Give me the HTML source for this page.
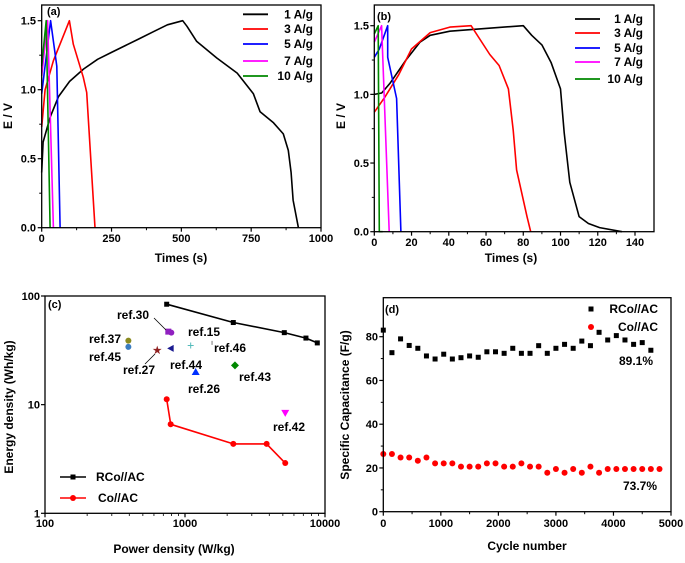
<!DOCTYPE html>
<html><head><meta charset="utf-8"><style>
html,body{margin:0;padding:0;background:#fff;}
svg{display:block;font-family:"Liberation Sans",Arial,sans-serif;font-weight:bold;}
</style></head><body>
<svg id="fig" width="685" height="563" viewBox="0 0 685 563" xmlns="http://www.w3.org/2000/svg"></svg>
<script>
// Panel (a) data
const aSeriesNames=["1 A/g","3 A/g","5 A/g","7 A/g","10 A/g"];
const aColors=["#000","#f00","#00f","#f0f","#080"];
const aT1=[0,5,30,60,100,150,200,250,300,350,400,450,505,520,555,627,700,758,782,830,865,883,893,900,919];
const aV1=[0.4,0.62,0.8,0.95,1.06,1.15,1.22,1.27,1.32,1.37,1.42,1.47,1.5,1.46,1.35,1.23,1.12,0.97,0.84,0.76,0.68,0.56,0.4,0.2,0];
const aT3=[0,12,42,99,113,149,161,191];
const aV3=[0.73,1.0,1.21,1.5,1.33,1.09,0.98,0];
const aT5=[0,32,54,66];const aV5=[0.97,1.5,1.17,0];
const aT7=[0,21,42];const aV7=[1.1,1.5,0];
const aT10=[0,16,30];const aV10=[1.17,1.5,0];
const aXTicks=[0,250,500,750,1000];const aYTicks=[0.0,0.5,1.0,1.5];
// Panel (b) data
const bT1=[0,4,8.4,17,24.5,30,40.6,60,80,84.5,90,95,100,102,105,110,115,121,133];
const bV1=[1.0,1.01,1.08,1.25,1.38,1.43,1.46,1.48,1.5,1.43,1.36,1.23,1.04,0.72,0.36,0.11,0.06,0.03,0];
const bT3=[0,5.7,13,20,30,40.6,52,62,67,72,74.6,76.4,82,84];
const bV3=[0.87,0.98,1.14,1.33,1.45,1.49,1.5,1.29,1.21,1.04,0.74,0.45,0.11,0];
const bT5=[0,2.7,7.2,7.2,12,14.3];const bV5=[1.27,1.33,1.5,1.27,0.97,0];
const bT7=[0,3.9,8];const bV7=[1.38,1.5,0];
const bT10=[0,2.1,2.7,4.5];const bV10=[1.44,1.5,0,0];
const bXTicks=[0,20,40,60,80,100,120,140];const bYTicks=[0.0,0.5,1.0,1.5];
// Panel (c) data
const cRCoP=[740,2213,5120,7310,8810];const cRCoE=[84,57,46,41,37];
const cCoP=[740,790,2213,3830,5200];const cCoE=[11.2,6.6,4.35,4.35,2.9];
const cRefNames=["ref.37","ref.45","ref.30","ref.27","ref.44","ref.15","ref.46","ref.26","ref.43","ref.42"];
const cRefP=[394,394,760,634,790,1098,1560,1192,2275,5200];
const cRefE=[38.8,34,47,32,33,35,37,20,23,8.4];
const cXTicks=[100,1000,10000];const cYTicks=[1,10,100];
// Panel (d) data
const dRCoCycles=[0,150,300,450,600,750,900,1050,1200,1350,1500,1650,1800,1950,2100,2250,2400,2550,2700,2850,3000,3150,3300,3450,3600,3750,3900,4050,4200,4350,4500,4650];
const dRCoCap=[83,72.7,79,76,74.7,71.2,69.8,72,69.8,70.4,71.2,70.6,73.1,73.1,72.4,74.7,72.4,72.4,75.9,72.4,74.7,76.5,74.7,78,75.9,82,78.5,80.5,78.5,76.5,77.3,73.8];
const dCoCycles=[0,150,300,450,600,750,900,1050,1200,1350,1500,1650,1800,1950,2100,2250,2400,2550,2700,2850,3000,3150,3300,3450,3600,3750,3900,4050,4200,4350,4500,4650,4800];
const dCoCap=[26.4,26.4,24.8,24.8,23.3,24.8,22.1,22.1,22.1,20.6,20.6,20.6,22.1,22.1,20.6,20.6,22.1,20.6,20.6,17.8,19.5,17.8,19.5,17.8,20.6,17.8,19.5,19.5,19.5,19.5,19.5,19.5,19.5];
const dXTicks=[0,1000,2000,3000,4000,5000];const dYTicks=[0,20,40,60,80];

const NS="http://www.w3.org/2000/svg";const svg=document.getElementById('fig');
function el(tag,attrs,parent,txt){const e=document.createElementNS(NS,tag);for(const k in attrs)e.setAttribute(k,attrs[k]);if(txt!==undefined)e.textContent=txt;(parent||svg).appendChild(e);return e;}
function grp(name){const g=el('g',{});return g;}
function txt(g,x,y,s,name,opts){opts=opts||{};const t=el('text',{x:x,y:y,'font-size':opts.fs||11,'text-anchor':opts.anchor||'middle',fill:opts.fill||'#000'},g,s);if(opts.rot)t.setAttribute('transform','rotate(-90 '+x+' '+y+')');return t;}
function line(g,pts,color,name){const p=el('polyline',{points:pts.map(q=>q[0].toFixed(1)+','+q[1].toFixed(1)).join(' '),fill:'none',stroke:color,'stroke-width':1.6,'stroke-linejoin':'round'},g);return p;}
function frame(g,x0,y0,x1,y1,name){const r=el('rect',{x:x0,y:y0,width:x1-x0,height:y1-y0,fill:'none',stroke:'#000','stroke-width':1.3},g);}
function xticks(g,ticks,fx,yb,ly,name,minor){ticks.forEach(t=>{const x=fx(t);el('line',{x1:x,x2:x,y1:yb,y2:yb+4,stroke:'#000','stroke-width':1.2},g);txt(g,x,ly,String(t),name+'-'+t);});(minor||[]).forEach(t=>{const x=fx(t);el('line',{x1:x,x2:x,y1:yb,y2:yb+2.5,stroke:'#000','stroke-width':1},g);});}
function yticks(g,ticks,fy,xl,lx,name,fmt,minor){ticks.forEach(t=>{const y=fy(t);el('line',{x1:xl-4,x2:xl,y1:y,y2:y,stroke:'#000','stroke-width':1.2},g);txt(g,lx,y+4,fmt?fmt(t):String(t),name+'-'+t,{anchor:'end'});});(minor||[]).forEach(t=>{const y=fy(t);el('line',{x1:xl-2.5,x2:xl,y1:y,y2:y,stroke:'#000','stroke-width':1},g);});}

// ---- Panel a ----
{const g=grp('panel-a-gcd');const fx=t=>41.7+t*(321-41.7)/1000, fy=v=>227.7-v*(227.7-20.7)/1.5;
const T=[aT1,aT3,aT5,aT7,aT10],V=[aV1,aV3,aV5,aV7,aV10];
T.forEach((ts,i)=>line(g,ts.map((t,j)=>[fx(t),fy(V[i][j])]),aColors[i],'series-a-'+aSeriesNames[i].replace(/[ \/]/g,'')));
frame(g,41.7,5,321,227.7,'plot-frame-a');
xticks(g,aXTicks,fx,227.7,242,'x-tick-a',[125,375,625,875]);
yticks(g,aYTicks,fy,41.7,36,'y-tick-a',t=>t.toFixed(1),[0.25,0.75,1.25]);
txt(g,181,262,'Times (s)','x-axis-title-a',{fs:12});
txt(g,12,116,'E / V','y-axis-title-a',{fs:12,rot:true});
txt(g,47,15,'(a)','panel-label-a',{anchor:'start'});
const ly=[14.3,29,44,61,76];aSeriesNames.forEach((n,i)=>{const lg=grp('legend-entry-a-'+i);g.appendChild(lg);el('line',{x1:243,x2:268,y1:ly[i],y2:ly[i],stroke:aColors[i],'stroke-width':1.8},lg);txt(lg,313,ly[i]+4,n,'legend-label-a-'+i,{anchor:'end',fs:12});});}

// ---- Panel b ----
{const g=grp('panel-b-gcd');const fx=t=>374.3+t*(635-374.3)/140, fy=v=>231.7-v*(231.7-25.7)/1.5;
const T=[bT1,bT3,bT5,bT7,bT10],V=[bV1,bV3,bV5,bV7,bV10];
T.forEach((ts,i)=>line(g,ts.map((t,j)=>[fx(t),fy(V[i][j])]),aColors[i],'series-b-'+aSeriesNames[i].replace(/[ \/]/g,'')));
frame(g,374.3,5,654,231.7,'plot-frame-b');
xticks(g,bXTicks,fx,231.7,246,'x-tick-b',[10,30,50,70,90,110,130]);
yticks(g,bYTicks,fy,374.3,369,'y-tick-b',t=>t.toFixed(1),[0.25,0.75,1.25]);
txt(g,511,262,'Times (s)','x-axis-title-b',{fs:12});
txt(g,345,116,'E / V','y-axis-title-b',{fs:12,rot:true});
txt(g,377,20,'(b)','panel-label-b',{anchor:'start'});
const ly=[19,33,48,62,79];aSeriesNames.forEach((n,i)=>{const lg=grp('legend-entry-b-'+i);g.appendChild(lg);el('line',{x1:575,x2:600,y1:ly[i],y2:ly[i],stroke:aColors[i],'stroke-width':1.8},lg);txt(lg,643,ly[i]+4,n,'legend-label-b-'+i,{anchor:'end',fs:12});});}

// ---- Panel c ----
{const g=grp('panel-c-ragone');const fx=p=>45+Math.log10(p/100)*140, fy=e=>296+(2-Math.log10(e))*108.65;
line(g,cRCoP.map((p,i)=>[fx(p),fy(cRCoE[i])]),'#000','series-rco-ac');
cRCoP.forEach((p,i)=>{const r=el('rect',{x:fx(p)-2.5,y:fy(cRCoE[i])-2.5,width:5,height:5,fill:'#000'},g);});
line(g,cCoP.map((p,i)=>[fx(p),fy(cCoE[i])]),'#f00','series-co-ac');
cCoP.forEach((p,i)=>{const c=el('circle',{cx:fx(p),cy:fy(cCoE[i]),r:3,fill:'#f00'},g);});
const mk=[['c','#8a8a20'],['c','#3a7cc0'],['s','#9020c0'],['star','#902020'],['tl','#1a1a90'],['plus','#5bb'],['tick','#555'],['tu','#0030ff'],['d','#080'],['td','#f0f']];
cRefNames.forEach((n,i)=>{const x=fx(cRefP[i]),y=fy(cRefE[i]);const[k,col]=mk[i];let m;
if(k==='c')m=el('circle',{cx:x,cy:y,r:3,fill:col},g);
else if(k==='s'){m=el('rect',{x:x-3,y:y-3,width:6,height:6,fill:col},g);el('circle',{cx:x+3,cy:y+1,r:3,fill:col},g);}
else if(k==='star')m=el('text',{x:x,y:y+3.5,'font-size':10,'text-anchor':'middle',fill:col},g,'★');
else if(k==='tl')m=el('polygon',{points:`${x-3.5},${y} ${x+3},${y-3.5} ${x+3},${y+3.5}`,fill:col},g);
else if(k==='plus')m=el('path',{d:`M${x-3},${y}H${x+3}M${x},${y-3}V${y+3}`,stroke:col,'stroke-width':1},g);
else if(k==='tick')m=el('line',{x1:x,x2:x,y1:y-2,y2:y+2,stroke:col,'stroke-width':0.8},g);
else if(k==='tu')m=el('polygon',{points:`${x},${y-4} ${x-4},${y+3} ${x+4},${y+3}`,fill:col},g);
else if(k==='d')m=el('polygon',{points:`${x},${y-4} ${x+4},${y} ${x},${y+4} ${x-4},${y}`,fill:col},g);
else m=el('polygon',{points:`${x},${y+4} ${x-4},${y-3} ${x+4},${y-3}`,fill:col},g);
});
const lab=[['ref.30',133,319],['ref.37',105,343],['ref.45',105,361],['ref.27',139,374],['ref.44',186,369],['ref.15',204,336],['ref.46',230,352],['ref.26',204,393],['ref.43',255,381],['ref.42',289,431]];
lab.forEach(l=>txt(g,l[1],l[2],l[0],'label-'+l[0].replace('.','-'),{fs:12}));
el('line',{x1:154,x2:166,y1:318,y2:330,stroke:'#000','stroke-width':0.8},g);
el('line',{x1:145,x2:155,y1:364,y2:354,stroke:'#000','stroke-width':0.8},g);
frame(g,45,296,325,513.3,'plot-frame-c');
xticks(g,cXTicks,fx,513.3,527,'x-tick-c');
const minorX=[];[100,1000].forEach(d=>{for(let k=2;k<10;k++)minorX.push(d*k);});minorX.forEach(t=>{const x=fx(t);el('line',{x1:x,x2:x,y1:513.3,y2:516,stroke:'#000','stroke-width':0.8},g);});
yticks(g,cYTicks,fy,45,40,'y-tick-c');
txt(g,174,553,'Power density (W/kg)','x-axis-title-c',{fs:12});
txt(g,13,407,'Energy density (Wh/kg)','y-axis-title-c',{fs:12,rot:true});
txt(g,48,308,'(c)','panel-label-c',{anchor:'start'});
const l1=grp('legend-entry-rco-ac');g.appendChild(l1);el('line',{x1:60,x2:86,y1:477,y2:477,stroke:'#000','stroke-width':1.6},l1);el('rect',{x:70.5,y:474.5,width:5,height:5,fill:'#000'},l1);txt(l1,96,481,'RCo//AC','legend-label-rco-ac',{anchor:'start',fs:12});
const l2=grp('legend-entry-co-ac');g.appendChild(l2);el('line',{x1:60,x2:86,y1:498,y2:498,stroke:'#f00','stroke-width':1.6},l2);el('circle',{cx:73,cy:498,r:3,fill:'#f00'},l2);txt(l2,98,502,'Co//AC','legend-label-co-ac',{anchor:'start',fs:12});}

// ---- Panel d ----
{const g=grp('panel-d-cycling');const fx=c=>383.3+c*(671-383.3)/5000, fy=v=>511.7-v*2.1875;
dRCoCycles.forEach((c,i)=>{const r=el('rect',{x:fx(c)-2.5,y:fy(dRCoCap[i])-2.5,width:5,height:5,fill:'#000'},g);});
dCoCycles.forEach((c,i)=>{const r=el('circle',{cx:fx(c),cy:fy(dCoCap[i]),r:3,fill:'#f00'},g);});
frame(g,383.3,297.7,671,511.7,'plot-frame-d');
xticks(g,dXTicks,fx,511.7,527,'x-tick-d',[500,1500,2500,3500,4500]);
yticks(g,dYTicks,fy,383.3,378,'y-tick-d',null,[10,30,50,70]);
txt(g,527,550,'Cycle number','x-axis-title-d',{fs:12});
txt(g,349,405,'Specific Capacitance (F/g)','y-axis-title-d',{fs:12,rot:true});
txt(g,385,313,'(d)','panel-label-d',{anchor:'start'});
const l1=grp('legend-entry-d-rco');g.appendChild(l1);el('rect',{x:588.5,y:306.5,width:5,height:5,fill:'#000'},l1);txt(l1,658,313,'RCo//AC','legend-label-d-rco',{anchor:'end',fs:12});
const l2=grp('legend-entry-d-co');g.appendChild(l2);el('circle',{cx:591,cy:327,r:3,fill:'#f00'},l2);txt(l2,658,331,'Co//AC','legend-label-d-co',{anchor:'end',fs:12});
txt(g,653,365,'89.1%','annotation-rco-retention',{anchor:'end',fs:12});
txt(g,657,490,'73.7%','annotation-co-retention',{anchor:'end',fs:12});}
</script>
</body></html>
